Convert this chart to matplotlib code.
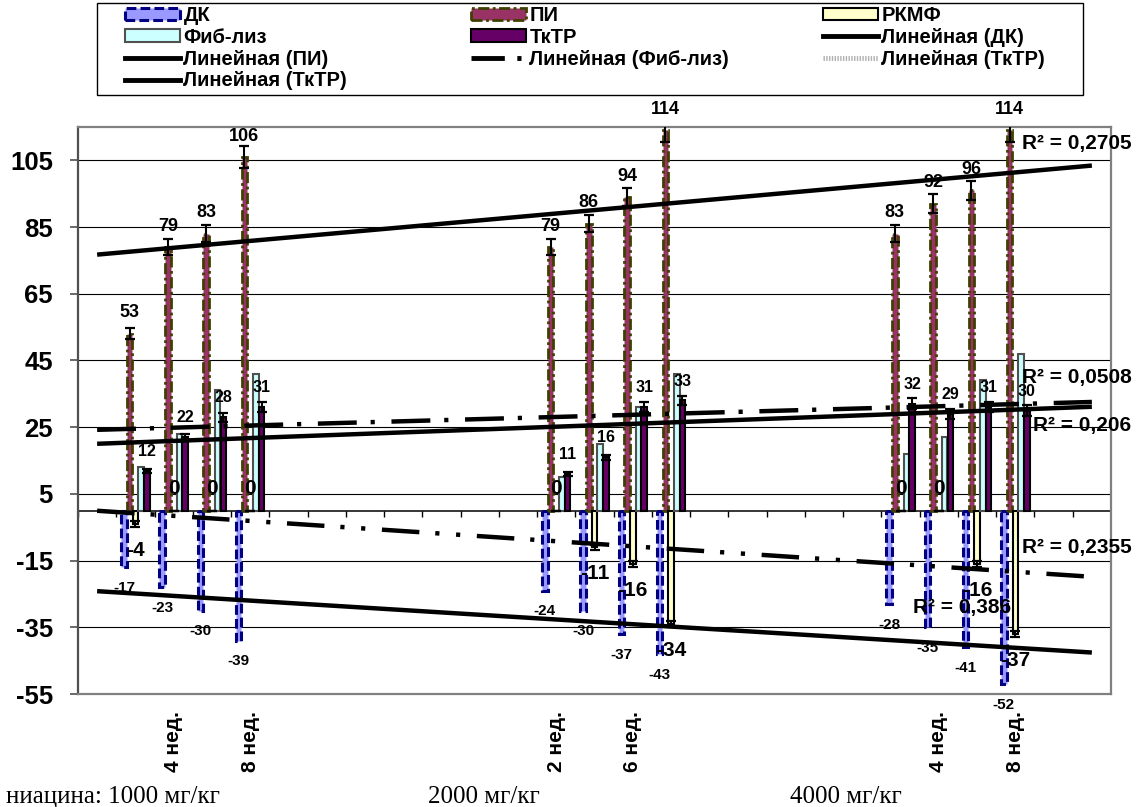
import numpy as np
import matplotlib
matplotlib.use('Agg')
import matplotlib.pyplot as plt
from matplotlib.patches import Patch, Rectangle
from matplotlib.lines import Line2D

plt.rcParams['font.family'] = ['Liberation Sans', 'DejaVu Sans']
plt.rcParams['font.weight'] = 'bold'
plt.rcParams['lines.scale_dashes'] = False
plt.rcParams['axes.unicode_minus'] = False

# categories: 27 slots on the axis, weeks sit in three dose groups
WEEKS = ['2 нед.', '4 нед.', '6 нед.', '8 нед.']
GROUP_START = [1, 12, 21]
N_CAT = 27
DOSES = ['ниацина: 1000 мг/кг', '2000 мг/кг', '4000 мг/кг']

DK = [-17, -23, -30, -39, -24, -30, -37, -43, -28, -35, -41, -52]
PI = [53, 79, 83, 106, 79, 86, 94, 114, 83, 92, 96, 114]
PI_ERR = [1.6, 2.4, 2.5, 3.2, 2.4, 2.6, 2.8, 3.4, 2.5, 2.8, 2.9, 3.4]
RKMF = [-4, 0, 0, 0, 0, -11, -16, -34, 0, 0, -16, -37]
RKMF_ERR = [1, 0, 0, 0, 0, 0.8, 0.8, 1, 0, 0, 0.8, 1]
FIB = [13, 23, 36, 41, 10, 20, 31, 41, 17, 22, 39, 47]
TKTR = [12, 22, 28, 31, 11, 16, 31, 33, 32, 29, 31, 30]
TKTR_ERR = [0.6, 1.1, 1.4, 1.5, 0.6, 0.8, 1.5, 1.4, 1.6, 1.4, 1.5, 1.5]
R2_TEXT = ['R² = 0,2705', 'R² = 0,0508', 'R² = 0,206', 'R² = 0,2355', 'R² = 0,386']

cat_labels = [''] * N_CAT
xpos = []
for g in GROUP_START:
    for i, w in enumerate(WEEKS):
        cat_labels[g + i] = w
        xpos.append(g + i)
xpos = np.array(xpos)

W = 0.145
STEP = 0.15

fig = plt.figure(figsize=(11.4, 8.07), dpi=100)
ax = fig.add_axes([78/1140, 1 - 694/807, (1111 - 78)/1140, (694 - 127)/807])
ax.set_xlim(-0.5, N_CAT - 0.5)
ax.set_ylim(-55, 115)
ax.set_yticks(np.arange(-55, 106, 20))
ax.yaxis.grid(True, color='black', lw=0.8)
ax.set_axisbelow(True)
for s in ax.spines.values():
    s.set_color('#808080')
    s.set_linewidth(1.6)
ax.spines['left'].set_color('#505050')

ax.axhline(0, color='black', lw=1.1, zorder=1)
ax.vlines(np.arange(N_CAT + 1) - 0.5, -1.8, 0, color='black', lw=1, zorder=1)

DK_LS = (0, (7, 3))
PI_LS = (0, (8, 2.5, 2, 2.5))

# bars, series order as in the workbook
series = [
    (DK, '#9999FF', '#000080', DK_LS, 2.2),
    (PI, '#993366', '#3F3F00', PI_LS, 2.0),
    (RKMF, '#FFFFCC', 'black', '-', 1.5),
    (FIB, '#CCFFFF', '#505050', '-', 1.5),
    (TKTR, '#660066', 'black', '-', 1.5),
]
for k, (vals, fc, ec, ls, lw) in enumerate(series):
    ax.bar(xpos + (k - 2) * STEP, vals, W, color=fc, edgecolor=ec,
           linestyle=ls, linewidth=lw, zorder=2 + k * 0.1)

ax.errorbar(xpos - STEP, PI, yerr=PI_ERR, fmt='none', ecolor='black',
            elinewidth=1.5, capsize=3.6, capthick=1.6, zorder=3)
ax.errorbar(xpos + 2 * STEP, TKTR, yerr=TKTR_ERR, fmt='none', ecolor='black',
            elinewidth=1.5, capsize=3.6, capthick=1.6, zorder=3)
ax.errorbar(xpos, RKMF, yerr=RKMF_ERR, fmt='none', ecolor='black',
            elinewidth=1.5, capsize=3.6, capthick=1.6, zorder=3)

# data labels
for x, v in zip(xpos, PI):
    ax.annotate(str(v), (x - STEP, v), xytext=(0, 15), textcoords='offset points',
                ha='center', va='center', fontsize=13, zorder=6)
for x, v in zip(xpos, TKTR):
    ax.annotate(str(v), (x + 2 * STEP, v), xytext=(0, 14), textcoords='offset points',
                ha='center', va='center', fontsize=11.5, zorder=6)
for x, v in zip(xpos, DK):
    ax.annotate(str(v), (x - 2 * STEP, v), xytext=(0, -15), textcoords='offset points',
                ha='center', va='center', fontsize=11, zorder=6)
for x, v in zip(xpos, RKMF):
    off = 16 if v == 0 else -19
    ax.annotate(str(v), (x, v), xytext=(0, off), textcoords='offset points',
                ha='center', va='center', fontsize=15, zorder=6)

# linear trends, fitted on the plotted points
ends = np.array([0, N_CAT - 1])
trend_styles = [
    (DK, '-'),
    (PI, '-'),
    (RKMF, (0, (27, 11.5, 3, 12, 3, 12))),
    (FIB, (0, (28, 10, 3, 12))),
    (TKTR, '-'),
]
for vals, ls in trend_styles:
    c = np.polyfit(xpos, vals, 1)
    ax.plot(ends, np.polyval(c, ends), color='black', lw=3.2, ls=ls,
            solid_capstyle='butt', zorder=5)

r2_pos = [(1022, 143), (1022, 378), (1033, 425), (1022, 547), (913, 607)]
for txt, (px, py) in zip(R2_TEXT, r2_pos):
    fig.text(px / 1140, 1 - py / 807, txt, ha='left', va='center', fontsize=15, zorder=7)

ax.set_xticks(np.arange(0, N_CAT, 2))
ax.set_xticklabels([cat_labels[i] for i in range(0, N_CAT, 2)], rotation=90)
ax.tick_params(axis='x', length=0, pad=12, labelsize=15)
ax.tick_params(axis='y', length=6, width=1.2, color='#505050', pad=12, labelsize=18.5)

for txt, px in zip(DOSES, [6, 428, 790]):
    fig.text(px / 1140, 1 - 803 / 807, txt, family='Liberation Serif',
             fontweight='normal', fontsize=18, ha='left', va='baseline')

# legend: frame plus three columns placed like the original
fig.patches.append(Rectangle((97 / 1140, 1 - 95 / 807), (1083 - 97) / 1140, 92 / 807,
                             transform=fig.transFigure, facecolor='white',
                             edgecolor='black', lw=1, zorder=0))
h = {
    'ДК': Patch(facecolor='#9999FF', edgecolor='#000080', linestyle=DK_LS, linewidth=2.2),
    'ПИ': Patch(facecolor='#993366', edgecolor='#3F3F00', linestyle=PI_LS, linewidth=2),
    'РКМФ': Patch(facecolor='#FFFFCC', edgecolor='black', linewidth=1.5),
    'Фиб-лиз': Patch(facecolor='#CCFFFF', edgecolor='#505050', linewidth=1.5),
    'ТкТР': Patch(facecolor='#660066', edgecolor='black', linewidth=1.5),
}
solid = Line2D([], [], color='black', lw=3.5)
columns = [
    (125, [(h['ДК'], 'ДК'), (h['Фиб-лиз'], 'Фиб-лиз'), (solid, 'Линейная (ПИ)'),
           (solid, 'Линейная (ТкТР)')]),
    (471, [(h['ПИ'], 'ПИ'), (h['ТкТР'], 'ТкТР'),
           (Line2D([], [], color='black', lw=3.5, ls=(0, (24, 9, 3, 40))), 'Линейная (Фиб-лиз)')]),
    (823, [(h['РКМФ'], 'РКМФ'), (solid, 'Линейная (ДК)'),
           (Line2D([], [], color='#B0B0B0', lw=3.5, ls=(0, (1, 1))), 'Линейная (ТкТР)')]),
]
for px, items in columns:
    leg = fig.legend([i[0] for i in items], [i[1] for i in items],
                     loc='upper left', bbox_to_anchor=(px / 1140, 1 - 6 / 807),
                     frameon=False, fontsize=14.5, handlelength=2.75, handleheight=0.6,
                     labelspacing=0.14, borderpad=0, handletextpad=0.15, borderaxespad=0)

fig.savefig('out.png', dpi=100)
